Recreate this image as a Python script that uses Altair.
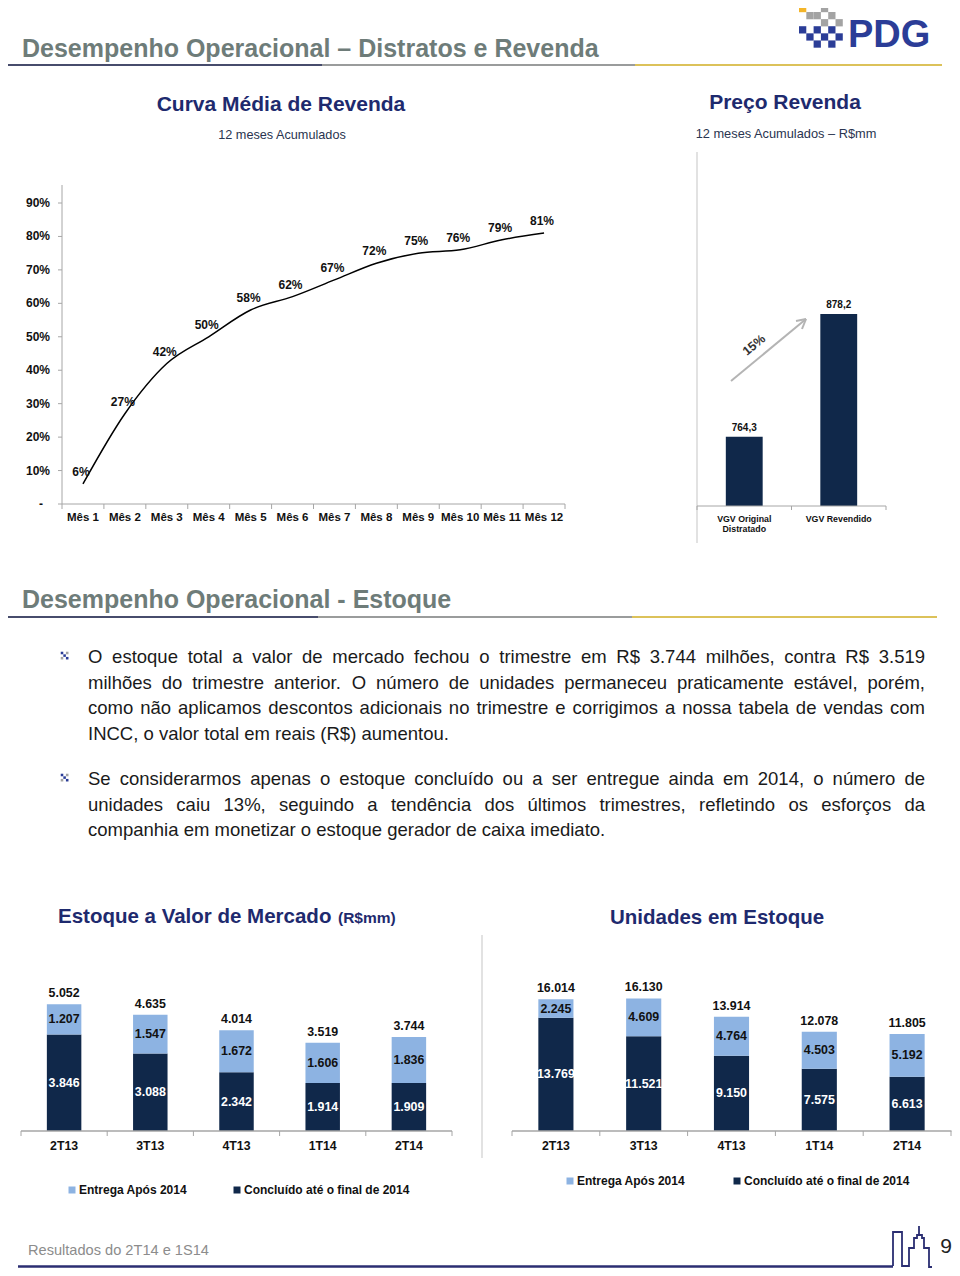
import unicodedata
import pandas as pd
import altair as alt

# ======================= chart values =======================
MONTHS = ["Mês 1", "Mês 2", "Mês 3", "Mês 4", "Mês 5", "Mês 6",
          "Mês 7", "Mês 8", "Mês 9", "Mês 10", "Mês 11", "Mês 12"]
REVENDA = [0.06, 0.27, 0.42, 0.50, 0.58, 0.62, 0.67, 0.72, 0.75, 0.76, 0.79, 0.81]
Y_TICKS = [0.0, 0.1, 0.2, 0.3, 0.4, 0.5, 0.6, 0.7, 0.8, 0.9]

VGV_CATS = ["VGV Original Distratado", "VGV Revendido"]
VGV_CAT_LINES = ["VGV Original\nDistratado", "VGV Revendido"]
VGV_VALUES = [764.3, 878.2]
VGV_BASE = 700
VGV_GROWTH = "15%"

QUARTERS = ["2T13", "3T13", "4T13", "1T14", "2T14"]
SERIES = ["Entrega Após 2014", "Concluído até o final de 2014"]
VM_ENTREGA = [1207, 1547, 1672, 1606, 1836]
VM_CONCL = [3846, 3088, 2342, 1914, 1909]
VM_TOTAL = [5052, 4635, 4014, 3519, 3744]
UN_ENTREGA = [2245, 4609, 4764, 4503, 5192]
UN_CONCL = [13769, 11521, 9150, 7575, 6613]
UN_TOTAL = [16014, 16130, 13914, 12078, 11805]

TITLE_1 = "Desempenho Operacional – Distratos e Revenda"
TITLE_2 = "Desempenho Operacional - Estoque"
SUB_L = "Curva Média de Revenda"
SUB_L2 = "12 meses Acumulados"
SUB_R = "Preço Revenda"
SUB_R2 = "12 meses Acumulados – R$mm"
BOT_L = "Estoque a Valor de Mercado"
BOT_L_UNIT = "(R$mm)"
BOT_R = "Unidades em Estoque"
FOOTER = "Resultados do 2T14 e 1S14"
PAGE_NO = "9"
LOGO_TEXT = "PDG"

PARAGRAPHS = [
    ["O estoque total a valor de mercado fechou o trimestre em R$ 3.744 milhões, contra R$ 3.519",
     "milhões do trimestre anterior. O número de unidades permaneceu praticamente estável, porém,",
     "como não aplicamos descontos adicionais no trimestre e corrigimos a nossa tabela de vendas com",
     "INCC, o valor total em reais (R$) aumentou."],
    ["Se considerarmos apenas o estoque concluído ou a ser entregue ainda em 2014, o número de",
     "unidades caiu 13%, seguindo a tendência dos últimos trimestres, refletindo os esforços da",
     "companhia em monetizar o estoque gerador de caixa imediato."],
]

# ======================= styles =======================
FONT = "Liberation Sans"
NAVY = "#10284A"
LIGHT = "#8DB3E2"
TITLE_BLUE = "#1E2A6E"
HEAD_GRAY = "#6E7C79"
AXIS_GRAY = "#A6A6A6"
TXT = "#111111"
LOGO_BLUE = "#2B3D97"
LOGO_COLORS = {"o": "#F4B529", "g": "#A3A3A3", "b": LOGO_BLUE}


def P(v):
    """page pixel -> chart pixel (page has an 8px margin)"""
    return v - 8


def one():
    return pd.DataFrame({"a": [0]})


def text_layer(t, x, y, size, color, bold=False, align="left", baseline="middle", angle=None):
    kw = dict(align=align, baseline=baseline, fontSize=size, font=FONT, color=color,
              fontWeight="bold" if bold else "normal")
    if angle is not None:
        kw["angle"] = angle
    return alt.Chart(pd.DataFrame({"t": [t]})).mark_text(**kw).encode(
        x=alt.value(P(x)), y=alt.value(P(y)), text="t:N")


def rule_layer(x1, y1, x2, y2, color, width=1.0):
    return alt.Chart(one()).mark_rule(color=color, strokeWidth=width).encode(
        x=alt.value(P(x1)), y=alt.value(P(y1)), x2=alt.value(P(x2)), y2=alt.value(P(y2)))


def tick_layer(n, x0, x1, y, length, color=AXIS_GRAY):
    df = pd.DataFrame({"k": list(range(n + 1))})
    return alt.Chart(df).mark_rule(color=color, strokeWidth=1).encode(
        x=alt.X("k:Q", scale=alt.Scale(domain=[0, n], range=[P(x0), P(x1)], nice=False, zero=False), axis=None),
        y=alt.value(P(y)), y2=alt.value(P(y + length)))


def br(v):
    return f"{v:,}".replace(",", ".")


# ---------- text width (Arial / Liberation Sans metrics) ----------
AW = {" ": 278, "!": 278, "$": 556, "%": 889, "(": 333, ")": 333, ",": 278, "-": 333, ".": 278,
      ":": 278, ";": 278, "/": 278,
      "A": 667, "B": 667, "C": 722, "D": 722, "E": 667, "F": 611, "G": 778, "H": 722, "I": 278,
      "J": 500, "K": 667, "L": 556, "M": 833, "N": 722, "O": 778, "P": 667, "Q": 778, "R": 722,
      "S": 667, "T": 611, "U": 722, "V": 667, "W": 944, "X": 667, "Y": 667, "Z": 611,
      "a": 556, "b": 556, "c": 500, "d": 556, "e": 556, "f": 278, "g": 556, "h": 556, "i": 222,
      "j": 222, "k": 500, "l": 222, "m": 833, "n": 556, "o": 556, "p": 556, "q": 556, "r": 333,
      "s": 500, "t": 278, "u": 556, "v": 500, "w": 722, "x": 500, "y": 500, "z": 500}
for d in "0123456789":
    AW[d] = 556


def tw(s, size):
    tot = 0
    for ch in s:
        if ch in "íìîï":
            tot += 278
            continue
        b = unicodedata.normalize("NFD", ch)[0]
        tot += AW.get(b, 556)
    return tot * size / 1000.0


layers = []

# ======================= header =======================
layers.append(text_layer(TITLE_1, 22, 57, 25, HEAD_GRAY, bold=True, baseline="alphabetic"))
layers.append(rule_layer(8, 65, 322, 65, "#474C6C", 2))
layers.append(rule_layer(322, 65, 635, 65, "#9A9C9C", 2))
layers.append(rule_layer(635, 65, 942, 65, "#DCC25A", 2))

# logo
LOGO_CELLS = [(0, 0, "o"), (0, 3, "g"), (1, 1, "g"), (1, 2, "g"), (1, 4, "g"), (2, 3, "g"), (2, 5, "g"),
              (3, 0, "b"), (3, 2, "b"), (3, 4, "b"), (4, 1, "b"), (4, 3, "b"), (4, 5, "b"),
              (5, 2, "b"), (5, 4, "b")]
logo_df = pd.DataFrame({
    "x": [P(799 + c * 7.3 + 3.65) for r, c, k in LOGO_CELLS],
    "y": [P(5 + r * 7.1 + 3.55) for r, c, k in LOGO_CELLS],
    "c": [LOGO_COLORS[k] for r, c, k in LOGO_CELLS]})
layers.append(alt.Chart(logo_df).mark_square(size=53, opacity=1).encode(
    x=alt.X("x:Q", scale=None), y=alt.Y("y:Q", scale=None), color=alt.Color("c:N", scale=None)))
layers.append(text_layer(LOGO_TEXT, 848, 47, 38, LOGO_BLUE, bold=True, baseline="alphabetic"))

# sub titles
layers.append(text_layer(SUB_L, 281, 105, 21, TITLE_BLUE, bold=True, align="center"))
layers.append(text_layer(SUB_L2, 282, 135, 12.7, "#2A3550", align="center"))
layers.append(text_layer(SUB_R, 785, 103, 21, TITLE_BLUE, bold=True, align="center"))
layers.append(text_layer(SUB_R2, 786, 134, 12.8, "#2A3550", align="center"))
layers.append(rule_layer(697, 152, 697, 543, "#D9D9D9", 1.5))

# ======================= line chart =======================
df_line = pd.DataFrame({"m": MONTHS, "v": REVENDA})
xl = alt.X("m:N", sort=MONTHS, axis=None,
           scale=alt.Scale(type="point", domain=MONTHS, range=[P(62), P(565)], padding=0.5))
ysc_l = alt.Scale(domain=[0, 0.9], range=[P(504), P(203)], nice=False, zero=False)
line = alt.Chart(df_line).mark_line(color="black", strokeWidth=1.5, interpolate="monotone").encode(
    x=xl, y=alt.Y("v:Q", scale=ysc_l, axis=None))
line_lbl = alt.Chart(df_line).mark_text(dy=-12, dx=-2, font=FONT, fontWeight="bold", fontSize=12,
                                         color=TXT).encode(
    x=xl, y=alt.Y("v:Q", scale=ysc_l, axis=None), text=alt.Text("v:Q", format=".0%"))
line_xlab = alt.Chart(df_line).mark_text(font=FONT, fontWeight="bold", fontSize=11.5, color=TXT).encode(
    x=xl, y=alt.value(P(518)), text="m:N")
df_yt = pd.DataFrame({"t": Y_TICKS})
line_ylab = alt.Chart(df_yt).transform_calculate(
    lab="datum.t == 0 ? '-' : format(datum.t, '.0%')",
    xp="datum.t == 0 ? %f : %f" % (P(43), P(50))).mark_text(
    align="right", font=FONT, fontWeight="bold", fontSize=12, color=TXT).encode(
    x=alt.X("xp:Q", scale=None), y=alt.Y("t:Q", scale=ysc_l, axis=None), text="lab:N")
line_ytk = alt.Chart(df_yt).mark_rule(color=AXIS_GRAY, strokeWidth=1).encode(
    x=alt.value(P(58)), x2=alt.value(P(62)), y=alt.Y("t:Q", scale=ysc_l, axis=None))
layers.append(alt.layer(line_ytk, line, line_lbl, line_xlab, line_ylab))
layers.append(rule_layer(62, 185, 62, 504, AXIS_GRAY, 1))
layers.append(rule_layer(62, 504, 565, 504, AXIS_GRAY, 1))
layers.append(tick_layer(12, 62, 565, 504, 5))

# ======================= VGV bars =======================
df_vgv = pd.DataFrame({"c": VGV_CATS, "v": VGV_VALUES, "cl": VGV_CAT_LINES})
df_vgv["lbl"] = df_vgv["v"].map(lambda v: f"{v:.1f}".replace(".", ","))
xv = alt.X("c:N", sort=VGV_CATS, axis=None,
           scale=alt.Scale(type="band", domain=VGV_CATS, range=[P(697), P(886)],
                           paddingInner=0.61, paddingOuter=0.305))
ysc_v = alt.Scale(domain=[700, 900], range=[P(506), P(290.5)], nice=False, zero=False)
vbars = alt.Chart(df_vgv).mark_bar(color=NAVY).encode(
    x=xv, y=alt.Y("v:Q", scale=ysc_v, axis=None), y2=alt.datum(VGV_BASE))
vlbl = alt.Chart(df_vgv).mark_text(dy=-9, font=FONT, fontWeight="bold", fontSize=10, color=TXT).encode(
    x=xv, y=alt.Y("v:Q", scale=ysc_v, axis=None), text="lbl:N")
vcat = alt.Chart(df_vgv).mark_text(baseline="top", lineBreak="\n", lineHeight=10, font=FONT,
                                   fontWeight="bold", fontSize=8.8, color=TXT).encode(
    x=xv, y=alt.value(P(515)), text="cl:N")
layers.append(alt.layer(vbars, vlbl, vcat))
layers.append(rule_layer(697, 506, 886, 506, AXIS_GRAY, 1))
layers.append(tick_layer(2, 697, 886, 506, 4))
# growth arrow
layers.append(rule_layer(731, 381, 806, 319, "#B4B4B4", 2))
layers.append(rule_layer(806, 319, 796, 321, "#B4B4B4", 2))
layers.append(rule_layer(806, 319, 802, 329, "#B4B4B4", 2))
layers.append(text_layer(VGV_GROWTH, 754, 345, 12.5, "#333333", bold=True, align="center", angle=320))

# ======================= section 2 =======================
layers.append(text_layer(TITLE_2, 22, 608, 25, HEAD_GRAY, bold=True, baseline="alphabetic"))
layers.append(rule_layer(4, 617, 318, 617, "#474C6C", 2))
layers.append(rule_layer(318, 617, 632, 617, "#9A9C9C", 2))
layers.append(rule_layer(632, 617, 937, 617, "#DCC25A", 2))

# bullets (small checker icon)
BULLET_CELLS = [(0, 0, "b"), (0, 2, "g"), (1, 1, "b"), (2, 0, "g"), (2, 2, "b")]
para_start = [657, 779]
bul = []
for y0 in para_start:
    for r, c, k in BULLET_CELLS:
        bul.append({"x": P(62 + c * 2.6), "y": P(y0 - 4 + r * 2.6), "c": LOGO_COLORS[k]})
layers.append(alt.Chart(pd.DataFrame(bul)).mark_square(size=6.5, opacity=1).encode(
    x=alt.X("x:Q", scale=None), y=alt.Y("y:Q", scale=None), color=alt.Color("c:N", scale=None)))

# justified paragraphs
FS = 18.5
LEFT, RIGHT, LH = 88, 925, 25.6
words = []
for pi, para in enumerate(PARAGRAPHS):
    for li, ln in enumerate(para):
        y = para_start[pi] + li * LH
        ws = ln.split(" ")
        wsum = sum(tw(w, FS) for w in ws)
        if li == len(para) - 1 or len(ws) < 2:
            gap = tw(" ", FS)
        else:
            gap = (RIGHT - LEFT - wsum) / (len(ws) - 1)
        x = LEFT
        for w in ws:
            words.append({"x": P(x), "y": P(y), "w": w})
            x += tw(w, FS) + gap
layers.append(alt.Chart(pd.DataFrame(words)).mark_text(
    align="left", baseline="middle", font=FONT, fontSize=FS, color="#1A1A1A").encode(
    x=alt.X("x:Q", scale=None), y=alt.Y("y:Q", scale=None), text="w:N"))

# ======================= stacked bars =======================
layers.append(text_layer(BOT_L, 58, 917, 20.5, TITLE_BLUE, bold=True))
layers.append(text_layer(BOT_L_UNIT, 338, 918, 15.5, TITLE_BLUE, bold=True))
layers.append(text_layer(BOT_R, 610, 918, 20.5, TITLE_BLUE, bold=True))
layers.append(rule_layer(482, 935, 482, 1158, "#D9D9D9", 1.5))


def stacked(entrega, concl, total, x0, x1, ymax, ytop, lx, ly, colpad):
    df = pd.DataFrame({"q": QUARTERS * 2,
                       "s": [SERIES[1]] * 5 + [SERIES[0]] * 5,
                       "v": list(concl) + list(entrega),
                       "o": [0] * 5 + [1] * 5})
    df["lbl"] = df["v"].map(br)
    tot = pd.DataFrame({"q": QUARTERS, "t": total})
    tot["lbl"] = tot["t"].map(br)
    X = alt.X("q:N", sort=QUARTERS, axis=None,
              scale=alt.Scale(type="band", domain=QUARTERS, range=[P(x0), P(x1)],
                              paddingInner=0.6, paddingOuter=0.3))
    ysc = alt.Scale(domain=[0, ymax], range=[P(1131), P(ytop)], nice=False, zero=True)
    base = alt.Chart(df).transform_stack(
        stack="v", groupby=["q"], as_=["y0", "y1"], sort=[alt.SortField("o", order="ascending")]
    ).transform_calculate(mid="(datum.y0 + datum.y1) / 2")
    bars = base.mark_bar().encode(
        x=X, y=alt.Y("y0:Q", scale=ysc, axis=None), y2="y1:Q",
        color=alt.Color("s:N", scale=alt.Scale(domain=SERIES, range=[LIGHT, NAVY]),
                        legend=alt.Legend(orient="none", legendX=P(lx), legendY=P(ly) - 6,
                                          direction="horizontal", title=None, symbolType="square",
                                          symbolSize=49, symbolStrokeWidth=0, labelFont=FONT,
                                          labelFontWeight="bold", labelFontSize=12, labelColor=TXT,
                                          labelLimit=400, columnPadding=colpad, labelOffset=1,
                                          padding=0)))
    seg = base.mark_text(font=FONT, fontWeight="bold", fontSize=12.4).encode(
        x=X, y=alt.Y("mid:Q", scale=ysc, axis=None, stack=None), text="lbl:N",
        color=alt.when(alt.datum.s == SERIES[1]).then(alt.value("white")).otherwise(alt.value(TXT)))
    tops = alt.Chart(tot).mark_text(dy=-11, font=FONT, fontWeight="bold", fontSize=12.4, color=TXT).encode(
        x=X, y=alt.Y("t:Q", scale=ysc, axis=None), text="lbl:N")
    cats = alt.Chart(tot).mark_text(font=FONT, fontWeight="bold", fontSize=12.3, color=TXT).encode(
        x=X, y=alt.value(P(1146)), text="q:N")
    return alt.layer(bars, seg, tops, cats)


layers.append(stacked(VM_ENTREGA, VM_CONCL, VM_TOTAL, 21, 452, 6000, 1131 - 6000 * 0.0251, 66, 1190, 43))
layers.append(rule_layer(21, 1131, 452, 1131, AXIS_GRAY, 1.5))
layers.append(tick_layer(5, 21, 452, 1131, 5))
layers.append(stacked(UN_ENTREGA, UN_CONCL, UN_TOTAL, 512, 951, 18000, 1131 - 18000 * 0.00822, 564, 1181, 45))
layers.append(rule_layer(512, 1131, 951.5, 1131, AXIS_GRAY, 1.5))
layers.append(tick_layer(5, 512, 951, 1131, 5))

# ======================= footer =======================
layers.append(text_layer(FOOTER, 28, 1251, 14.6, "#8C8C8C"))
layers.append(rule_layer(18, 1266.5, 893, 1266.5, "#2B2E72", 2.5))
BUILDING = [(893, 1266), (893, 1232), (902, 1232), (902, 1266), (909, 1266), (909, 1248), (914, 1248),
            (914, 1238), (917, 1238), (917, 1235), (919, 1235), (919, 1226), (919, 1235), (922, 1235),
            (922, 1238), (924, 1238), (924, 1248), (929, 1248), (929, 1267), (932, 1267)]
bdf = pd.DataFrame({"i": list(range(len(BUILDING))),
                    "x": [P(a) for a, b in BUILDING], "y": [P(b) for a, b in BUILDING]})
layers.append(alt.Chart(bdf).mark_line(color="#2B2E72", strokeWidth=1.8).encode(
    x=alt.X("x:Q", scale=None), y=alt.Y("y:Q", scale=None), order="i:Q"))
layers.append(text_layer(PAGE_NO, 946, 1247, 21, "#222222", align="center"))

chart = alt.layer(*layers).resolve_scale(
    x="independent", y="independent", color="independent"
).properties(
    width=944, height=1260, padding=0, autosize=alt.AutoSizeParams(type="none")
).configure_view(strokeWidth=0)

chart.save("out.html", embed_options={"renderer": "svg", "actions": False})
